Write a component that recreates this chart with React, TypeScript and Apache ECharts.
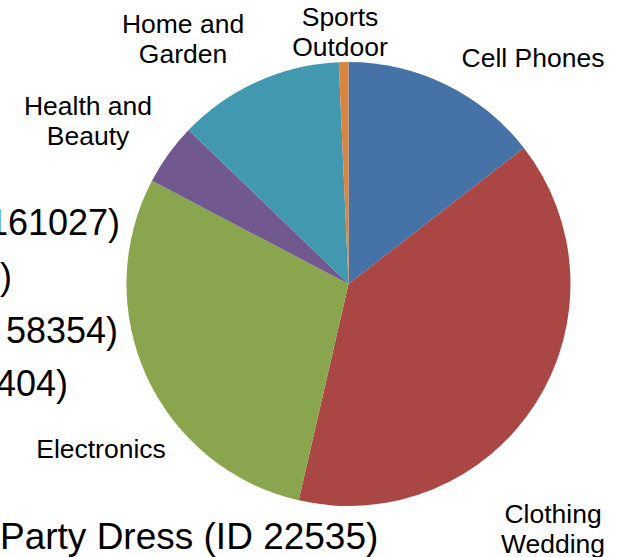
import React, { useEffect, useRef } from "react";
import * as echarts from "echarts";

const categories = ["Cell Phones", "Clothing\nWedding", "Electronics", "Health and\nBeauty", "Home and\nGarden", "Sports\nOutdoor"];
const values = [14.5, 39.1, 29.1, 4.5, 12.1, 0.7];
const colors = ["#4572A7", "#AA4643", "#89A54E", "#71588F", "#4198AF", "#DB843D"];
const sideTexts = ["(ID 161027)", "(ID 7)", "(ID 58354)", "(ID 404)"];
const bottomText = "Party Dress (ID 22535)";

// label anchor placement (Excel best-fit look), keyed by slice index
const labelPos: Record<number, [number, number]> = {
  0: [533, 58],
  1: [553, 529],
  2: [101, 449],
  3: [88, 121],
  4: [183, 39],
  5: [340, 32],
};

export default function App() {
  const ref = useRef<HTMLDivElement>(null);
  useEffect(() => {
    if (!ref.current) return;
    const chart = echarts.init(ref.current, null, { renderer: "svg" });
    const font = "'Liberation Sans', Arial, sans-serif";
    const sideRight = [120, 12, 118, 68];
    const sideY = [222, 276, 330, 383];
    chart.setOption({
      animation: false,
      backgroundColor: "#ffffff",
      graphic: [
        ...sideTexts.map((t, i) => ({
          type: "text",
          x: sideRight[i],
          y: sideY[i],
          z: -1,
          style: { text: t, font: `36px ${font}`, fill: "#000", textAlign: "right", textVerticalAlign: "middle" },
        })),
        {
          type: "text",
          x: 0,
          y: 536,
          z: -1,
          style: { text: bottomText, font: `37px ${font}`, fill: "#000", textAlign: "left", textVerticalAlign: "middle" },
        },
      ],
      series: [
        {
          type: "pie",
          center: [348.5, 284],
          radius: 222,
          startAngle: 90,
          clockwise: true,
          avoidLabelOverlap: false,
          label: {
            show: true,
            position: "outside",
            color: "#000",
            fontSize: 26.5,
            lineHeight: 30,
            fontFamily: font,
            align: "center",
            formatter: (p: any) => p.name,
          },
          labelLine: { show: false },
          labelLayout: (p: any) => {
            const pos = labelPos[p.dataIndex];
            return { x: pos[0], y: pos[1], align: "center", verticalAlign: "middle" };
          },
          itemStyle: { borderWidth: 0 },
          emphasis: { disabled: true },
          data: categories.map((c, i) => ({ name: c, value: values[i], itemStyle: { color: colors[i] } })),
        },
      ],
    });
    return () => chart.dispose();
  }, []);
  return <div ref={ref} style={{ position: "fixed", left: 0, top: 0, width: 619, height: 557 }} />;
}
